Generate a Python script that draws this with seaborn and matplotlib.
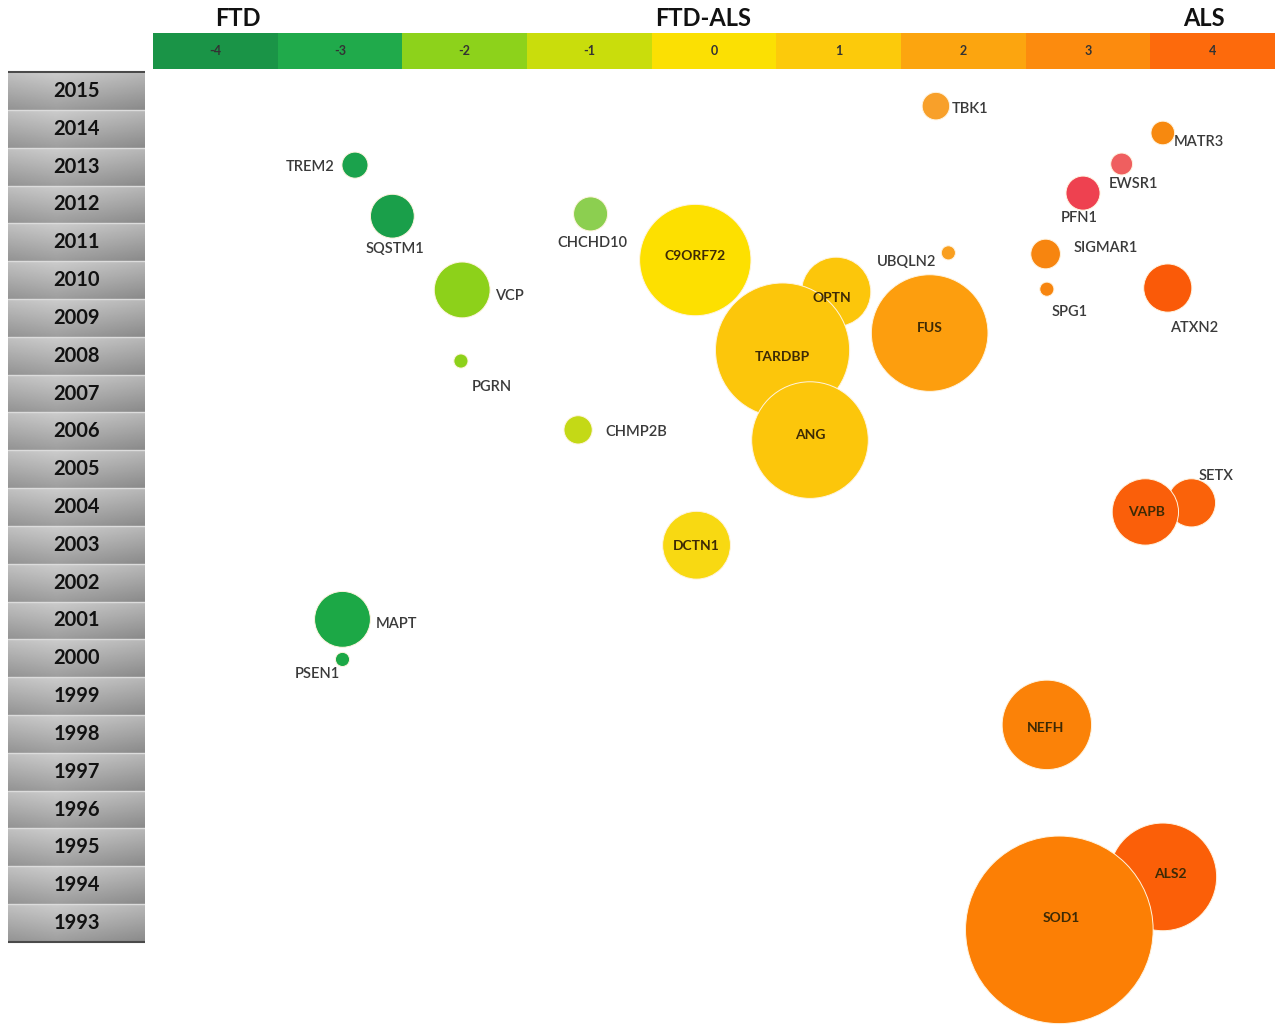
#
# plot.py
#   - Bubble chart of FTD / ALS genes by year of discovery and spectrum score.
#

import numpy as np
import pandas as pd
import seaborn as sns
import matplotlib.pyplot as plt
from matplotlib.colors import ListedColormap

# spectrum scale shown in the header bar
spectrum = [-4, -3, -2, -1, 0, 1, 2, 3, 4]
spectrum_titles = ["FTD", "FTD-ALS", "ALS"]
years = list(range(1993, 2016))

# genes, ordered newest first (drawing order)
genes = ["TBK1", "MATR3", "EWSR1", "TREM2", "PFN1", "CHCHD10", "SQSTM1",
         "UBQLN2", "SIGMAR1", "C9ORF72", "SPG1", "ATXN2", "VCP", "OPTN",
         "FUS", "TARDBP", "PGRN", "CHMP2B", "ANG", "SETX", "VAPB", "DCTN1",
         "MAPT", "PSEN1", "NEFH", "ALS2", "SOD1"]
score = [1.78, 3.60, 3.27, -2.88, 2.96, -0.99, -2.58,
         1.88, 2.66, -0.15, 2.67, 3.64, -2.02, 0.98,
         1.73, 0.55, -2.03, -1.09, 0.77, 3.83, 3.46, -0.14,
         -2.98, -2.98, 2.67, 3.60, 2.77]
year = [2014.6, 2013.89, 2013.07, 2013.04, 2012.3, 2011.75, 2011.69,
        2010.72, 2010.69, 2010.53, 2009.76, 2009.79, 2009.74, 2009.69,
        2008.6, 2008.15, 2007.86, 2006.04, 2005.77, 2004.11, 2003.87, 2002.99,
        2001.03, 1999.97, 1998.24, 1994.22, 1992.82]
weight = [1.9, 1.4, 1.2, 1.7, 2.9, 2.9, 4.8,
          0.5, 2.2, 31, 0.5, 5.8, 7.8, 12,
          34, 45, 0.5, 2.0, 34, 5.8, 11, 11.5,
          7.8, 0.5, 20, 29, 88]

# style: bubble colours, label placement (offset in px from bubble centre)
bubble_colors = ["#f8a02a", "#f7890f", "#ef5f5f", "#1ba24c", "#ee4150", "#8ccf50", "#1a9f4a",
                 "#f99f1f", "#f7850f", "#fde000", "#f7850f", "#fa5a08", "#8dd11a", "#fcc60b",
                 "#fd9e0e", "#fcc60b", "#8dd11a", "#c4d916", "#fcc60b", "#fa620a", "#fa5f0a", "#f8d912",
                 "#1ca846", "#1ca846", "#fb8208", "#fb5f08", "#fc7f05"]
label_dx = [34, 36, 12, -45, -4, 2, 3,
            -42, 60, 0, 23, 26, 47, -4,
            0, 0, 31, 58, 0, 25, 1, 0,
            54, -25, -1, 8, 2]
label_dy = [3, 9, 20, 2, 25, 29, 33,
            9, -6, -4, 23, 40, 6, 6,
            -5, 7, 26, 2, -5, -27, 0, 1,
            5, 15, 3, -3, -12]
label_inside = {"C9ORF72", "OPTN", "FUS", "TARDBP", "ANG", "VAPB", "DCTN1",
                "NEFH", "ALS2", "SOD1"}
bar_colors = ["#1a9447", "#20aa4b", "#8dd21b", "#c9dd0c", "#fbe003",
              "#fcca0b", "#fca50f", "#fc8b0e", "#fd6a0c"]


def main():
    sns.set_theme(style="white")
    plt.rcParams['font.family'] = ['Lato', 'DejaVu Sans']

    df = pd.DataFrame({"gene": genes, "score": score, "year": year, "weight": weight})

    W, H = 1285, 1026
    fig = plt.figure(figsize=(W / 100, H / 100), dpi=100)

    # pixel layout of the year axis
    y_px0, px_per_year = 91, 37.82
    top_px, bot_px = 70, H
    ylim = (2015 - (bot_px - y_px0) / px_per_year, 2015 + (y_px0 - top_px) / px_per_year)
    ax_h = (bot_px - top_px) / H

    # main bubble axes
    ax = fig.add_axes([153 / W, 0, 1122 / W, ax_h])
    wmax = max(weight)
    sns.scatterplot(data=df, x="score", y="year", hue="gene",
                    palette=dict(zip(genes, bubble_colors)),
                    size="weight", sizes=(0, 207.36 * wmax), size_norm=(0, wmax),
                    legend=False, edgecolor="#fff4e0", linewidth=0.7,
                    clip_on=False, ax=ax)
    ax.set_xlim(-4.5, 4.5)
    ax.set_ylim(*ylim)
    ax.set_axis_off()

    for g, x, y, dx, dy in zip(genes, score, year, label_dx, label_dy):
        if g in label_inside:
            kw = dict(fontsize=10, fontweight="bold", color="#3d2a05")
        else:
            kw = dict(fontsize=10.5, fontweight="semibold", color="#3a3a3a")
        ax.annotate(g, (x, y), xytext=(dx * 0.72, -dy * 0.72),
                    textcoords="offset points", ha="center", va="center", **kw)

    # year column with grey gradient boxes
    ax_y = fig.add_axes([8 / W, 0, 137 / W, ax_h])
    v = np.linspace(0, 1, 30)[:, None]
    h = np.linspace(0, 1, 60)[None, :]
    grad = 0.80 - 0.18 * v - 0.12 * np.abs(h - 0.35)
    for yr in years:
        ax_y.imshow(grad, cmap="gray", vmin=0, vmax=1, aspect="auto",
                    extent=(0, 1, yr - 0.5, yr + 0.5))
        ax_y.axhline(yr + 0.5, color="#dcdcdc", lw=1)
        ax_y.text(0.5, yr, str(yr), ha="center", va="center",
                  fontsize=14.5, fontweight="bold", color="#111111")
    ax_y.axhline(2015.5, color="#4a4a4a", lw=1.5)
    ax_y.axhline(1992.5, color="#4a4a4a", lw=1.5)
    ax_y.set_xlim(0, 1)
    ax_y.set_ylim(*ylim)
    ax_y.set_axis_off()

    # spectrum header bar
    ax_bar = fig.add_axes([153 / W, 1 - 69 / H, 1122 / W, 36 / H])
    sns.heatmap(np.array([spectrum]), ax=ax_bar, cmap=ListedColormap(bar_colors),
                vmin=-4.5, vmax=4.5, annot=True, fmt="d", cbar=False,
                xticklabels=False, yticklabels=False,
                annot_kws=dict(size=9, weight="bold", color="#333333"))
    for t, xpos in zip(spectrum_titles, [0.68, 4.41, 8.43]):
        ax_bar.text(xpos, -0.08, t, ha="center", va="bottom",
                    fontsize=17, fontweight="bold", color="#111111")

    plt.savefig("out.png", dpi=100)


if __name__ == '__main__':
    main()
